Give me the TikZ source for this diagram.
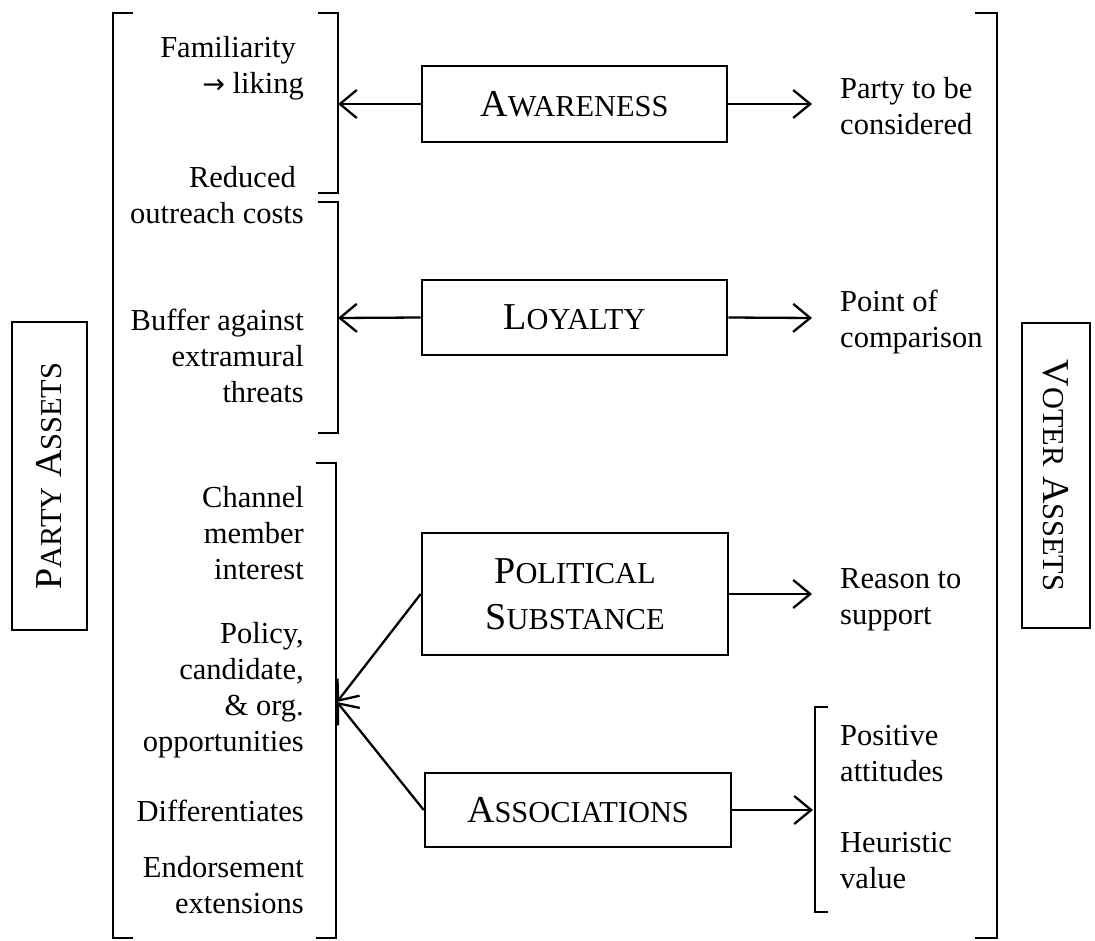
\documentclass[tikz,border=0pt]{standalone}
\usepackage{fontspec}
\setmainfont{Liberation Serif}
\newfontfamily\arrowfont{DejaVu Sans}
\usetikzlibrary{arrows.meta}
\newcommand\bodyfont{\fontsize{30.5}{36}\selectfont}
\newcommand\capfont{\fontsize{38}{46}\selectfont}
\newcommand\smc[1]{{\fontsize{30.4}{46}\selectfont #1}}
\newcommand\fl{\rule{0pt}{25pt}}
\newcommand\tsp{\hspace*{8pt}}
\begin{document}
\begin{tikzpicture}[x=1pt,y=-1pt,
  box/.style={draw,line width=2.6pt,inner sep=0pt,font=\capfont,align=center},
  ltext/.style={anchor=north east,inner sep=0pt,align=right,font=\bodyfont},
  rtext/.style={anchor=north west,inner sep=0pt,align=left,font=\bodyfont},
  brk/.style={line width=2.6pt,line join=miter},
  arr/.style={line width=2.3pt,-{Straight Barb[length=17pt,width=28pt]}}]
\useasboundingbox (0,0) rectangle (1095,941);

% side boxes
\node[box,rotate=90,minimum width=308pt,minimum height=75pt] (party) at (49.5,476) {P\smc{ARTY} A\smc{SSETS}};
\node[box,rotate=-90,minimum width=305pt,minimum height=68pt] (voter) at (1056,475.5) {V\smc{OTER} A\smc{SSETS}};

% central boxes
\node[box,minimum width=305pt,minimum height=76pt] (aw) at (574.5,104) {A\smc{WARENESS}};
\node[box,minimum width=305pt,minimum height=75pt] (loy) at (574.5,317.5) {L\smc{OYALTY}};
\node[box,minimum width=306pt,minimum height=122pt] (pol) at (575,594) {P\smc{OLITICAL}\\S\smc{UBSTANCE}};
\node[box,minimum width=306pt,minimum height=74pt] (asc) at (578,810) {A\smc{SSOCIATIONS}};

% brackets
\draw[brk] (133,13) -- (113,13) -- (113,938) -- (133,938);
\draw[brk] (318,13) -- (338,13) -- (338,193) -- (318,193);
\draw[brk] (318,202) -- (338,202) -- (338,433) -- (318,433);
\draw[brk] (316,463) -- (336,463) -- (336,938) -- (316,938);
\draw[brk] (828,707) -- (815,707) -- (815,912) -- (828,912);
\draw[brk] (975,13) -- (997,13) -- (997,938) -- (975,938);

% left texts
\node[ltext] (fam) at (304,32) {\fl Familiarity\tsp\\{\arrowfont\fontsize{27}{36}\selectfont →} liking};
\node[ltext] (red) at (304,162) {\fl Reduced\tsp\\outreach costs};
\node[ltext] (buf) at (304,305) {\fl Buffer against\\extramural\\threats};
\node[ltext] (chan) at (304,482) {\fl Channel\\member\\interest};
\node[ltext] (polc) at (304,618) {\fl Policy,\\candidate,\tsp\\\&~org.\tsp\\opportunities};
\node[ltext] (diff) at (304,796) {\fl Differentiates};
\node[ltext] (endo) at (304,852) {\fl Endorsement\\extensions};

% right texts
\node[rtext] (cons) at (840,73) {\fl Party to be\\considered};
\node[rtext] (comp) at (840,286) {\fl Point of\\comparison};
\node[rtext] (supp) at (840,563) {\fl Reason to\\support};
\node[rtext] (posi) at (840,720) {\fl Positive\\attitudes};
\node[rtext] (heur) at (840,827) {\fl Heuristic\\value};

% arrow ends
\coordinate (la) at (338,104);
\coordinate (ll) at (338,318);
\coordinate (lp) at (337,702);
\coordinate (ra) at (812,104);
\coordinate (rl) at (812,318);
\coordinate (rp) at (812,594);
\coordinate (rs) at (813,810);

\draw[arr] (aw.west) -- (la);
\draw[arr] (loy.west) -- (ll);
\draw[arr] (pol.west) -- (lp);
\draw[arr] (asc.west) -- (lp);
\draw[arr] (aw.east) -- (ra);
\draw[arr] (loy.east) -- (rl);
\draw[arr] (pol.east) -- (rp);
\draw[arr] (asc.east) -- (rs);
\end{tikzpicture}
\end{document}
